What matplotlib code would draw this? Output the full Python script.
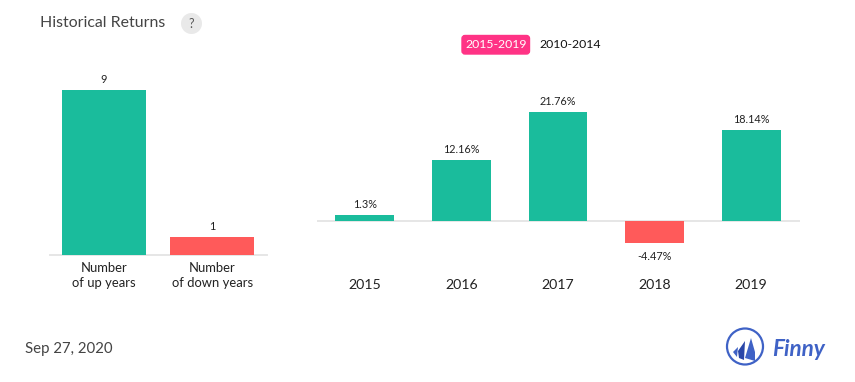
import matplotlib
matplotlib.use("Agg")
import matplotlib.pyplot as plt
from matplotlib.patches import Circle, FancyBboxPatch, Polygon

plt.rcParams['font.family'] = ['Lato', 'DejaVu Sans']

W, H = 855, 382
GREEN = '#1abc9c'
RED = '#ff5a5a'
AXIS = '#e6e6e6'
INK = '#222222'

count_labels = ['Number\nof up years', 'Number\nof down years']
count_values = [9, 1]
years = ['2015', '2016', '2017', '2018', '2019']
returns = [1.3, 12.16, 21.76, -4.47, 18.14]
return_labels = ['1.3%', '12.16%', '21.76%', '-4.47%', '18.14%']
title = 'Historical Returns'
date_text = 'Sep 27, 2020'
periods = ['2015-2019', '2010-2014']


def px_axes(fig, left, right, top, bottom):
    return fig.add_axes([left / W, 1 - bottom / H, (right - left) / W, (bottom - top) / H])


def clean(ax):
    for side in ['top', 'left', 'right', 'bottom']:
        ax.spines[side].set_visible(False)
    ax.set_yticks([])
    ax.tick_params(axis='x', length=0)
    ax.patch.set_alpha(0)


fig = plt.figure(figsize=(W / 100, H / 100), dpi=100, facecolor='white')

# Left panel: 1 unit = 18.33 px
ax1 = px_axes(fig, 49.5, 266.5, 70, 255)
clean(ax1)
ax1.bar(range(2), count_values, width=0.774, color=[GREEN, RED], zorder=2)
ax1.set_xlim(-0.5, 1.5)
ax1.set_ylim(0, 185 / 18.33)
ax1.axhline(0, color=AXIS, lw=1.4, zorder=1, clip_on=False)
ax1.set_xticks(range(2))
ax1.set_xticklabels(count_labels, fontsize=9.4, color=INK, linespacing=1.32)
ax1.tick_params(axis='x', pad=5.2)
for i, v in enumerate(count_values):
    ax1.annotate(str(v), (i, v), xytext=(0, 5), textcoords='offset pixels',
                 ha='center', va='bottom', fontsize=7.8, color=INK)

# Right panel: 1 unit = 5 px
ax2 = px_axes(fig, 316.5, 799.5, 80, 270)
clean(ax2)
ax2.bar(range(5), returns, width=0.61,
        color=[GREEN if r >= 0 else RED for r in returns], zorder=2)
ax2.set_xlim(-0.5, 4.5)
ax2.set_ylim(-49 / 5.0, 141 / 5.0)
ax2.axhline(0, color=AXIS, lw=1.4, zorder=1)
ax2.set_xticks(range(5))
ax2.set_xticklabels(years, fontsize=10.2, color=INK)
ax2.tick_params(axis='x', pad=6.8)
for i, (r, lab) in enumerate(zip(returns, return_labels)):
    off = 5 if r >= 0 else -8
    ax2.annotate(lab, (i, r), xytext=(0, off), textcoords='offset pixels',
                 ha='center', va='bottom' if r >= 0 else 'top',
                 fontsize=7.8, color=INK)

# Overlay in pixel coordinates: header, buttons, footer and logo
ov = fig.add_axes([0, 0, 1, 1], zorder=5)
ov.set_xlim(0, W)
ov.set_ylim(H, 0)
ov.axis('off')

ov.text(40, 23, title, fontsize=11.45, color='#444444', ha='left', va='center')
ov.add_patch(Circle((191.5, 23.5), 10.5, fc='#e9e9e9', ec='none'))
ov.text(191.5, 23.5, '?', fontsize=9, color='#555555', ha='center', va='center')

ov.add_patch(FancyBboxPatch((462, 35.5), 67.5, 18.5, boxstyle='round,pad=0,rounding_size=3',
                            fc='#ff3385', ec='#ff3385', lw=1))
ov.text(496, 44.5, periods[0], fontsize=8.8, color='white', ha='center', va='center')
ov.text(570, 44.5, periods[1], fontsize=8.8, color='#111111', ha='center', va='center')

ov.text(25, 349, date_text, fontsize=10.85, color='#444444', ha='left', va='center')

BLUE = '#3f62c6'
ov.add_patch(Circle((745, 346.5), 18, fc='white', ec=BLUE, lw=1.6))
ov.add_patch(Polygon([(733, 352), (738, 347), (737, 357)], fc=BLUE, ec='none'))
ov.add_patch(Polygon([(738, 351), (745, 341), (744, 360), (739, 358)], fc='#2a46a8', ec='none'))
ov.add_patch(Polygon([(745, 358), (751, 338), (755, 352), (755, 361)], fc=BLUE, ec='none'))
ov.text(772, 349, 'Finny', fontsize=16.2, color=BLUE, ha='left', va='center',
        style='italic', fontweight='bold')

fig.savefig('out.png', dpi=100, facecolor='white')
